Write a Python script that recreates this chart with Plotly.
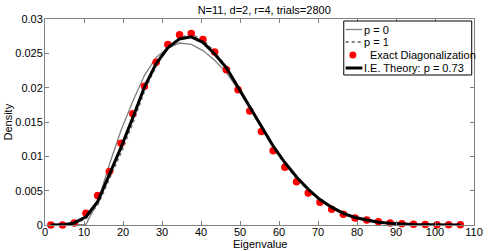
import plotly.graph_objects as go

eig = [1.5, 4.5, 7.5, 10.5, 13.5, 16.5, 19.5, 22.5, 25.5, 28.5, 31.5, 34.5,
       37.5, 40.5, 43.5, 46.5, 49.5, 52.5, 55.5, 58.5, 61.5, 64.5, 67.5, 70.5,
       73.5, 76.5, 79.5, 82.5, 85.5, 88.5, 91.5, 94.5, 97.5, 100.5, 103.5, 106.5]

exact = [0.0, 0.0, 0.0003, 0.0017, 0.0043, 0.0078, 0.0119, 0.0162, 0.0202, 0.0237,
         0.0263, 0.0277, 0.0279, 0.0270, 0.0252, 0.0226, 0.0197, 0.0166, 0.0136,
         0.0108, 0.0084, 0.0063, 0.00466, 0.0033, 0.00228, 0.00155, 0.00102,
         0.00073, 0.00049, 0.0003, 0.0002, 0.0001, 0.00007, 0.00005, 0.00003, 0.00002]

ie_theory = [0.0, 0.00002, 0.0003, 0.0012, 0.0034, 0.0073, 0.0113, 0.0156, 0.0201,
             0.0235, 0.0258, 0.0271, 0.0274, 0.0266, 0.0249, 0.0229, 0.0201, 0.0172,
             0.0143, 0.0115, 0.0091, 0.0070, 0.0052, 0.0037, 0.0026, 0.0017, 0.0011,
             0.0007, 0.0004, 0.00025, 0.00013, 0.00007, 0.00003, 0.00001, 0.0, 0.0]

p1 = [0.0, 0.00001, 0.0002, 0.0009, 0.0029, 0.0066, 0.0105, 0.0148, 0.0195, 0.0232,
      0.0258, 0.0273, 0.0277, 0.0270, 0.0252, 0.0229, 0.0200, 0.0170, 0.0141,
      0.0113, 0.0089, 0.0068, 0.0050, 0.0036, 0.0025, 0.0016, 0.0010, 0.0006,
      0.0004, 0.00023, 0.00012, 0.00006, 0.00003, 0.00001, 0.0, 0.0]

p0 = [0.0, 0.0, 0.0, 0.0001, 0.0033, 0.0088, 0.0138, 0.0180, 0.0218, 0.0244,
      0.0258, 0.0265, 0.0263, 0.0254, 0.0240, 0.0222, 0.0198, 0.0170, 0.0141,
      0.0113, 0.0090, 0.0069, 0.0051, 0.0036, 0.0025, 0.0016, 0.0010, 0.0006,
      0.0004, 0.00023, 0.00012, 0.00006, 0.00003, 0.00001, 0.0, 0.0]

x_ticks = [0, 10, 20, 30, 40, 50, 60, 70, 80, 90, 100, 110]
y_ticks = [0, 0.005, 0.01, 0.015, 0.02, 0.025, 0.03]
y_tick_text = ["0", "0.005", "0.01", "0.015", "0.02", "0.025", "0.03"]

legend_labels = ["p = 0", "p = 1", "Exact Diagonalization", "I.E. Theory: p = 0.73"]

GRAY = "#808080"
fig = go.Figure()
fig.add_trace(go.Scatter(x=eig, y=p0, mode="lines", name=legend_labels[0],
                         line=dict(color=GRAY, width=1.3)))
fig.add_trace(go.Scatter(x=eig, y=p1, mode="lines", name=legend_labels[1],
                         line=dict(color=GRAY, width=1.8, dash="3px,3px")))
fig.add_trace(go.Scatter(x=eig, y=exact, mode="markers", name=legend_labels[2],
                         marker=dict(color="#ff0000", size=7.5), cliponaxis=False))
fig.add_trace(go.Scatter(x=eig, y=ie_theory, mode="lines", name=legend_labels[3],
                         line=dict(color="#000000", width=3)))

font = dict(family="Liberation Sans, Arial, sans-serif", size=11, color="#000000")

# ---- custom legend (paper coordinates) ----
shapes = [dict(type="rect", xref="paper", yref="paper", x0=0.6964, x1=0.9947,
               y0=0.7282, y1=0.9903, line=dict(color="#000000", width=1),
               fillcolor="white", layer="above")]
rows_y = [0.949, 0.8883, 0.8252, 0.7621]
lx0, lx1 = 0.7009, 0.7397
shapes.append(dict(type="line", xref="paper", yref="paper", x0=lx0, x1=lx1,
                   y0=rows_y[0], y1=rows_y[0], line=dict(color=GRAY, width=1.3), layer="above"))
shapes.append(dict(type="line", xref="paper", yref="paper", x0=lx0, x1=lx1,
                   y0=rows_y[1], y1=rows_y[1], line=dict(color=GRAY, width=1.8, dash="3px,3px"),
                   layer="above"))
shapes.append(dict(type="circle", xref="paper", yref="paper", xsizemode="pixel",
                   ysizemode="pixel", xanchor=0.7176, yanchor=rows_y[2],
                   x0=-3.5, x1=3.5, y0=-3.5, y1=3.5,
                   fillcolor="#ff0000", line=dict(color="#ff0000", width=0), layer="above"))
shapes.append(dict(type="line", xref="paper", yref="paper", x0=lx0, x1=lx1,
                   y0=rows_y[3], y1=rows_y[3], line=dict(color="#000000", width=3), layer="above"))

text_x = [0.742, 0.742, 0.755, 0.742]
annotations = []
for lbl, ty, tx in zip(legend_labels, rows_y, text_x):
    annotations.append(dict(text=lbl, x=tx, y=ty, xref="paper", yref="paper",
                            xanchor="left", yanchor="middle", showarrow=False,
                            font=dict(size=11), xshift=-1))

annotations.append(dict(text="Eigenvalue", x=0.5, y=-0.092, xref="paper", yref="paper",
                        xanchor="center", yanchor="middle", showarrow=False,
                        font=dict(size=11)))
annotations.append(dict(text="Density", x=-0.0874, y=0.5, xref="paper", yref="paper",
                        xanchor="center", yanchor="middle", showarrow=False,
                        textangle=-90, font=dict(size=11)))

fig.update_layout(
    width=492, height=251,
    margin=dict(l=45, r=9, t=19, b=26),
    paper_bgcolor="white", plot_bgcolor="white",
    font=font,
    title=dict(text="N=11, d=2, r=4, trials=2800", x=0.537, xanchor="center",
               y=0.975, yanchor="top", font=dict(size=11)),
    showlegend=False,
    hovermode=False,
    shapes=shapes,
    annotations=annotations,
    xaxis=dict(range=[0, 110], tickvals=x_ticks, ticks="inside", ticklen=4,
               showline=True, linecolor=GRAY, linewidth=1, mirror="ticks",
               tickcolor=GRAY, showgrid=False, zeroline=False,
               ticklabelstandoff=-3),
    yaxis=dict(range=[0, 0.03], tickvals=y_ticks, ticktext=y_tick_text,
               ticks="inside", ticklen=4, tickcolor=GRAY,
               showline=True, linecolor=GRAY, linewidth=1, mirror="ticks",
               showgrid=False, zeroline=False, ticklabelstandoff=-1),
)

fig.write_html("out.html",
               config={"displayModeBar": False},
               post_script="document.body.style.margin='0px';document.body.style.overflow='hidden';")
